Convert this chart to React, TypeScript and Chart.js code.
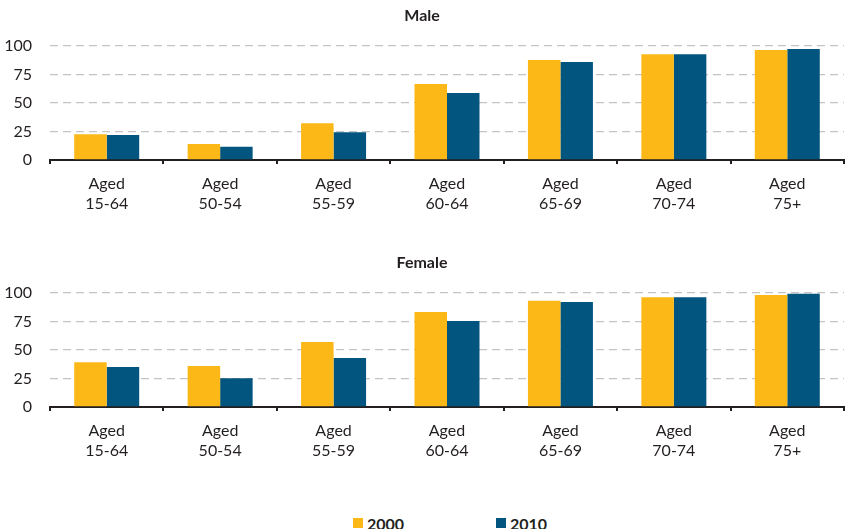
import React, { useEffect, useRef } from 'react';
import { Chart, registerables } from 'chart.js';

Chart.register(...registerables);

const categories: string[][] = [
  ['Aged', '15-64'],
  ['Aged', '50-54'],
  ['Aged', '55-59'],
  ['Aged', '60-64'],
  ['Aged', '65-69'],
  ['Aged', '70-74'],
  ['Aged', '75+'],
];
const seriesLabels = ['2000', '2010'];
const male2000 = [22.5, 14, 32.2, 66.7, 87.7, 92.7, 96.5];
const male2010 = [21.9, 11.7, 24.3, 58.8, 86, 92.7, 97.4];
const female2000 = [39.2, 35.9, 57.1, 83.3, 93.3, 96.2, 98.2];
const female2010 = [35, 25.3, 43, 75.4, 92.1, 96.2, 99.4];
const yTicks = [0, 25, 50, 75, 100];

const DARK = '#231f20';
const YELLOW = '#fbb817';
const BLUE = '#02557f';
const FONT = 'Lato, "Open Sans", sans-serif';

function Panel({ title, d2000, d2010, top }: { title: string; d2000: number[]; d2010: number[]; top: number }) {
  const ref = useRef<HTMLCanvasElement | null>(null);
  useEffect(() => {
    if (!ref.current) return;
    const chart = new Chart(ref.current, {
      type: 'bar',
      data: {
        labels: categories,
        datasets: [
          { label: seriesLabels[0], data: d2000, backgroundColor: YELLOW, borderWidth: 0 },
          { label: seriesLabels[1], data: d2010, backgroundColor: BLUE, borderWidth: 0 },
        ],
      },
      options: {
        animation: false,
        responsive: true,
        maintainAspectRatio: false,
        layout: { padding: { left: 0, right: 2, top: 0, bottom: 0 } },
        datasets: { bar: { barPercentage: 1, categoryPercentage: 0.573 } },
        plugins: {
          legend: { display: false },
          tooltip: { enabled: false },
          title: {
            display: true,
            text: title,
            color: DARK,
            font: { family: FONT, size: 16, weight: 'bold', lineHeight: 1.2 },
            padding: { top: 6, bottom: 20.8 },
          },
        },
        scales: {
          x: {
            offset: true,
            grid: {
              display: true,
              offset: true,
              drawOnChartArea: false,
              drawTicks: true,
              tickLength: 4,
              color: DARK,
              lineWidth: 2,
            },
            border: { display: true, color: DARK, width: 2 },
            ticks: {
              color: DARK,
              font: { family: FONT, size: 16, lineHeight: 1.25 },
              padding: 10,
              maxRotation: 0,
              autoSkip: false,
            },
            afterFit: (s: any) => {
              s.height = 87;
            },
          },
          y: {
            min: 0,
            max: 100,
            afterBuildTicks: (s: any) => {
              s.ticks = yTicks.map((v) => ({ value: v }));
            },
            grid: {
              color: (ctx: any) => (ctx.tick && ctx.tick.value === 0 ? 'rgba(0,0,0,0)' : '#c4c4c4'),
              lineWidth: 1.3,
              drawTicks: false,
            },
            border: { display: false, dash: [8, 5] },
            ticks: {
              color: DARK,
              font: { family: FONT, size: 16 },
              padding: 18,
            },
            afterFit: (s: any) => {
              s.width = 50;
            },
          },
        },
      } as any,
    });
    return () => chart.destroy();
  }, []);
  return (
    <div style={{ position: 'absolute', left: 0, top, width: 846, height: 247 }}>
      <canvas ref={ref} />
    </div>
  );
}

function LegendItem({ color, label, left }: { color: string; label: string; left: number }) {
  return (
    <div
      style={{
        position: 'absolute',
        left,
        top: 513,
        height: 20,
        display: 'flex',
        alignItems: 'center',
        fontFamily: FONT,
        fontWeight: 'bold',
        fontSize: 16,
        color: DARK,
      }}
    >
      <span style={{ display: 'inline-block', width: 10, height: 10, background: color, marginRight: 4 }} />
      <span>{label}</span>
    </div>
  );
}

export default function App() {
  return (
    <div style={{ position: 'absolute', left: 0, top: 0, width: 846, height: 529, background: '#fff' }}>
      <Panel title="Male" d2000={male2000} d2010={male2010} top={0} />
      <Panel title="Female" d2000={female2000} d2010={female2010} top={247} />
      <LegendItem color={YELLOW} label={seriesLabels[0]} left={353} />
      <LegendItem color={BLUE} label={seriesLabels[1]} left={496} />
    </div>
  );
}
